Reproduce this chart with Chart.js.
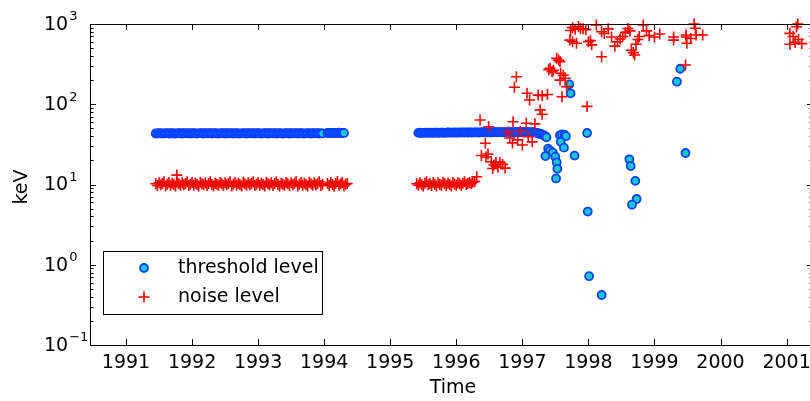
<!DOCTYPE html>
<html>
<head>
<meta charset="utf-8">
<script src="https://cdn.jsdelivr.net/npm/chart.js@4.4.1/dist/chart.umd.min.js"></script>
<style>
  html, body { margin: 0; padding: 0; overflow: hidden; background: #fff; }
  #wrap { width: 830px; height: 401px; }
</style>
</head>
<body>
<div id="wrap"><canvas id="chart"></canvas></div>
<script>
// Axis ticks
const yearTicks = [1991, 1992, 1993, 1994, 1995, 1996, 1997, 1998, 1999, 2000, 2001];
const decadeExps = [-1, 0, 1, 2, 3];

// Threshold level, [year, keV]
const threshA = [
    [1991.450, 43.2], [1991.475, 43.4], [1991.500, 43.3], [1991.525, 43.5], [1991.550, 43.1], [1991.575, 43.4], [1991.600, 43.3], [1991.625, 43.6],
    [1991.650, 43.2], [1991.675, 43.4], [1991.700, 43.5], [1991.725, 43.3], [1991.750, 43.1], [1991.775, 43.4], [1991.800, 43.6], [1991.825, 43.3],
    [1991.850, 43.2], [1991.875, 43.5], [1991.900, 43.4], [1991.925, 43.3], [1991.950, 43.6], [1991.975, 43.2], [1992.000, 43.4], [1992.025, 43.5],
    [1992.050, 43.3], [1992.075, 43.1], [1992.100, 43.4], [1992.125, 43.6], [1992.150, 43.3], [1992.175, 43.2], [1992.200, 43.5], [1992.225, 43.4],
    [1992.250, 43.3], [1992.275, 43.6], [1992.300, 43.2], [1992.325, 43.4], [1992.350, 43.5], [1992.375, 43.3], [1992.400, 43.1], [1992.425, 43.4],
    [1992.450, 43.6], [1992.475, 43.3], [1992.500, 43.2], [1992.525, 43.5], [1992.550, 43.4], [1992.575, 43.3], [1992.600, 43.6], [1992.625, 43.2],
    [1992.650, 43.4], [1992.675, 43.5], [1992.700, 43.3], [1992.725, 43.1], [1992.750, 43.4], [1992.775, 43.6], [1992.800, 43.3], [1992.825, 43.2],
    [1992.850, 43.5], [1992.875, 43.4], [1992.900, 43.3], [1992.925, 43.6], [1992.950, 43.2], [1992.975, 43.4], [1993.000, 43.5], [1993.025, 43.3],
    [1993.050, 43.1], [1993.075, 43.4], [1993.100, 43.6], [1993.125, 43.3], [1993.150, 43.2], [1993.175, 43.5], [1993.200, 43.4], [1993.225, 43.3],
    [1993.250, 43.6], [1993.275, 43.2], [1993.300, 43.4], [1993.325, 43.5], [1993.350, 43.3], [1993.375, 43.1], [1993.400, 43.4], [1993.425, 43.6],
    [1993.450, 43.3], [1993.475, 43.2], [1993.500, 43.5], [1993.525, 43.4], [1993.550, 43.3], [1993.575, 43.6], [1993.600, 43.2], [1993.625, 43.4],
    [1993.650, 43.5], [1993.675, 43.3], [1993.700, 43.1], [1993.725, 43.4], [1993.750, 43.6], [1993.775, 43.3], [1993.800, 43.2], [1993.825, 43.5],
    [1993.850, 43.4], [1993.875, 43.3], [1993.900, 43.6], [1993.925, 43.2], [1993.950, 43.4], [1993.975, 43.3],
    [1994.050, 43.8], [1994.075, 44.0], [1994.100, 43.9], [1994.125, 44.1], [1994.150, 43.7], [1994.175, 43.9], [1994.200, 44.0], [1994.225, 44.2],
    [1994.250, 43.8], [1994.275, 44.0], [1994.300, 43.9]
];
const threshB = [
    [1995.425, 44.0], [1995.450, 44.2], [1995.475, 43.9], [1995.500, 44.1], [1995.525, 44.3], [1995.550, 44.0], [1995.575, 44.2], [1995.600, 44.1],
    [1995.625, 44.3], [1995.650, 44.0], [1995.675, 44.2], [1995.700, 44.4], [1995.725, 44.1], [1995.750, 44.3], [1995.775, 44.2], [1995.800, 44.4],
    [1995.825, 44.1], [1995.850, 44.3], [1995.875, 44.5], [1995.900, 44.2], [1995.925, 44.4], [1995.950, 44.3], [1995.975, 44.5], [1996.000, 44.2],
    [1996.025, 44.4], [1996.050, 44.6], [1996.075, 44.3], [1996.100, 44.5], [1996.125, 44.4], [1996.150, 44.6], [1996.175, 44.3], [1996.200, 44.5],
    [1996.225, 44.7], [1996.250, 44.4], [1996.275, 44.6], [1996.300, 44.5], [1996.325, 44.7], [1996.350, 44.4], [1996.375, 44.6], [1996.400, 44.8],
    [1996.425, 44.5], [1996.450, 44.7], [1996.475, 44.6], [1996.500, 44.8], [1996.525, 44.5], [1996.550, 44.7], [1996.575, 44.9], [1996.600, 44.6],
    [1996.625, 44.8], [1996.650, 44.7], [1996.675, 44.9], [1996.700, 44.6], [1996.725, 44.8], [1996.750, 45.0], [1996.775, 44.7], [1996.800, 44.9],
    [1996.825, 44.8], [1996.850, 45.0], [1996.875, 44.7], [1996.900, 44.9], [1996.925, 45.1], [1996.950, 44.8], [1996.975, 45.0], [1997.000, 44.9],
    [1997.025, 45.1], [1997.050, 44.8], [1997.075, 45.0], [1997.100, 44.9], [1997.125, 44.7], [1997.150, 44.8], [1997.175, 44.5], [1997.200, 44.2],
    [1997.225, 43.8], [1997.250, 43.2], [1997.275, 42.6], [1997.300, 42.0], [1997.325, 41.0], [1997.350, 39.8], [1997.365, 38.8]
];
const threshScatter = [
    [1997.57, 41.0], [1997.60, 42.0], [1997.64, 41.5], [1997.66, 40.0], [1997.58, 34.0], [1997.63, 28.8], [1997.39, 28.0], [1997.42, 26.5],
    [1997.46, 25.0], [1997.35, 22.6], [1997.50, 22.2], [1997.52, 18.9], [1997.53, 15.7], [1997.51, 11.9], [1997.79, 22.9], [1997.98, 43.8],
    [1997.71, 177], [1997.73, 137], [1997.99, 4.6], [1998.01, 0.72], [1998.20, 0.42], [1998.62, 20.6], [1998.64, 17.0], [1998.71, 11.1],
    [1998.73, 6.6], [1998.66, 5.6], [1999.34, 191], [1999.39, 277], [1999.47, 24.7]
];

// Noise level, [year, keV]
const noiseA = [
    [1991.450, 10.2], [1991.475, 9.7], [1991.500, 10.5], [1991.525, 9.9], [1991.550, 10.3], [1991.575, 10.8], [1991.600, 9.6], [1991.625, 10.1],
    [1991.650, 10.6], [1991.675, 9.8], [1991.700, 10.4], [1991.725, 10.0], [1991.750, 9.6], [1991.770, 13.1], [1991.775, 10.7], [1991.800, 10.2],
    [1991.825, 9.8], [1991.850, 10.5], [1991.875, 9.9], [1991.900, 10.3], [1991.925, 10.8], [1991.950, 9.7], [1991.975, 10.1], [1992.000, 10.6],
    [1992.025, 9.8], [1992.050, 10.4], [1992.075, 10.0], [1992.100, 9.6], [1992.125, 10.7], [1992.150, 10.2], [1992.175, 9.9], [1992.200, 10.5],
    [1992.225, 9.7], [1992.250, 10.3], [1992.275, 10.8], [1992.300, 10.0], [1992.325, 9.6], [1992.350, 10.4], [1992.375, 10.1], [1992.400, 9.8],
    [1992.425, 10.6], [1992.450, 10.2], [1992.475, 9.7], [1992.500, 10.5], [1992.525, 9.9], [1992.550, 10.3], [1992.575, 10.8], [1992.600, 9.6],
    [1992.625, 10.1], [1992.650, 10.6], [1992.675, 9.8], [1992.700, 10.4], [1992.725, 10.0], [1992.750, 9.6], [1992.775, 10.7], [1992.800, 10.2],
    [1992.825, 9.8], [1992.850, 10.5], [1992.875, 9.9], [1992.900, 10.3], [1992.925, 10.8], [1992.950, 9.7], [1992.975, 10.1], [1993.000, 10.6],
    [1993.025, 9.8], [1993.050, 10.4], [1993.075, 10.0], [1993.100, 9.6], [1993.125, 10.7], [1993.150, 10.2], [1993.175, 9.9], [1993.200, 10.5],
    [1993.225, 9.7], [1993.250, 10.3], [1993.275, 10.8], [1993.300, 10.0], [1993.325, 9.6], [1993.350, 10.4], [1993.375, 10.1], [1993.400, 9.8],
    [1993.425, 10.6], [1993.450, 10.2], [1993.475, 9.7], [1993.500, 10.5], [1993.525, 9.9], [1993.550, 10.3], [1993.575, 10.8], [1993.600, 9.6],
    [1993.625, 10.1], [1993.650, 10.6], [1993.675, 9.8], [1993.700, 10.4], [1993.725, 10.0], [1993.750, 9.6], [1993.775, 10.7], [1993.800, 10.2],
    [1993.825, 9.8], [1993.850, 10.5], [1993.875, 9.9], [1993.900, 10.3], [1993.925, 10.8], [1993.950, 9.7], [1993.975, 10.1],
    [1994.050, 10.3], [1994.075, 9.7], [1994.100, 10.6], [1994.125, 10.0], [1994.150, 9.5], [1994.175, 10.4], [1994.200, 10.9], [1994.225, 9.8],
    [1994.250, 10.2], [1994.275, 10.6], [1994.300, 9.6], [1994.325, 10.1], [1994.350, 10.3]
];
const noiseB = [
    [1995.400, 10.2], [1995.425, 9.8], [1995.450, 10.5], [1995.475, 10.0], [1995.500, 9.6], [1995.525, 10.4], [1995.550, 10.8], [1995.575, 9.9],
    [1995.600, 10.3], [1995.625, 9.7], [1995.650, 10.6], [1995.675, 10.1], [1995.700, 9.6], [1995.725, 10.5], [1995.750, 10.0], [1995.775, 9.8],
    [1995.800, 10.7], [1995.825, 10.2], [1995.850, 9.7], [1995.875, 10.4], [1995.900, 10.0], [1995.925, 9.6], [1995.950, 10.6], [1995.975, 10.1],
    [1996.000, 9.8], [1996.025, 10.5], [1996.050, 10.2], [1996.075, 9.7], [1996.100, 10.4], [1996.125, 10.8], [1996.150, 10.0], [1996.175, 10.3],
    [1996.200, 10.6], [1996.225, 10.2], [1996.250, 10.7], [1996.280, 10.9], [1996.310, 12.5]
];
const noiseScatter = [
    [1996.36, 63.7], [1996.49, 52.5], [1996.44, 32.6], [1996.38, 23.0], [1996.45, 22.0], [1996.48, 24.0], [1996.53, 19.2], [1996.57, 17.5],
    [1996.60, 18.8], [1996.63, 16.5], [1996.66, 19.0], [1996.70, 17.8], [1996.74, 16.0], [1996.55, 15.8], [1996.78, 45.0], [1996.97, 46.0],
    [1996.86, 60.6], [1997.06, 58.0], [1997.19, 57.0], [1996.81, 38.0], [1996.85, 33.0], [1996.93, 36.0], [1997.00, 31.0], [1997.09, 39.5],
    [1997.15, 34.0], [1996.91, 220], [1996.88, 163], [1997.07, 137], [1997.11, 113], [1997.24, 130], [1997.30, 128], [1997.38, 132],
    [1997.27, 85], [1997.30, 75], [1997.52, 373], [1997.55, 355], [1997.57, 340], [1997.42, 280], [1997.45, 255], [1997.47, 265],
    [1997.40, 270], [1997.58, 243], [1997.62, 230], [1997.65, 211], [1997.57, 200], [1997.67, 166], [1997.60, 124], [1997.98, 94],
    [1997.73, 830], [1997.76, 900], [1997.80, 860], [1997.85, 930], [1997.88, 880], [1997.92, 870], [1997.96, 850], [1997.72, 630],
    [1997.76, 600], [1997.82, 575], [1998.00, 600], [1998.03, 620], [1998.05, 550], [1998.12, 970], [1998.20, 800], [1998.24, 760],
    [1998.30, 870], [1998.35, 690], [1998.20, 390], [1998.40, 530], [1998.44, 600], [1998.48, 650], [1998.52, 700], [1998.56, 780],
    [1998.60, 880], [1998.63, 820], [1998.65, 470], [1998.68, 440], [1998.70, 410], [1998.72, 560], [1998.75, 640], [1998.77, 700],
    [1998.83, 970], [1998.88, 820], [1998.92, 720], [1999.00, 690], [1999.08, 750], [1999.29, 690], [1999.29, 630], [1999.48, 690],
    [1999.49, 575], [1999.47, 308], [1999.60, 1000], [1999.62, 885], [1999.48, 730], [1999.55, 660], [1999.63, 730], [1999.73, 730],
    [2001.17, 1000], [2001.15, 925], [2001.05, 765], [2001.10, 700], [2001.05, 560], [2001.13, 590], [2001.23, 570], [2001.18, 640]
];

const FONT = '"DejaVu Sans", sans-serif';
const BLUE_EDGE = '#0a40ff';
const BLUE_FILL = '#1cc6d0';
const RED = '#ff0000';

const toPoints = arr => arr.map(p => ({ x: p[0], y: p[1] }));

// Frame, inward ticks, labels and legend
const framePlugin = {
    id: 'frame',
    afterDraw(chart) {
        const { ctx, chartArea: a, scales } = chart;
        const xs = scales.x, ys = scales.y;
        ctx.save();
        ctx.strokeStyle = '#000';
        ctx.lineWidth = 1;
        ctx.strokeRect(a.left + 0.5, a.top + 0.5, a.right - a.left, a.bottom - a.top);

        ctx.beginPath();
        yearTicks.forEach(yr => {
            const px = Math.round(xs.getPixelForValue(yr)) + 0.5;
            ctx.moveTo(px, a.bottom); ctx.lineTo(px, a.bottom - 6);
            ctx.moveTo(px, a.top); ctx.lineTo(px, a.top + 6);
        });
        decadeExps.forEach(e => {
            for (let m = 1; m <= 9; m++) {
                const v = m * Math.pow(10, e);
                if (v > 1000) break;
                const py = Math.round(ys.getPixelForValue(v)) + 0.5;
                const len = m === 1 ? 6 : 3.5;
                ctx.moveTo(a.left, py); ctx.lineTo(a.left + len, py);
                ctx.moveTo(a.right, py); ctx.lineTo(a.right - len, py);
            }
        });
        ctx.stroke();

        // x labels
        ctx.fillStyle = '#000';
        ctx.font = '19px ' + FONT;
        ctx.textAlign = 'center';
        ctx.textBaseline = 'middle';
        yearTicks.forEach(yr => {
            ctx.fillText(String(yr), xs.getPixelForValue(yr), a.bottom + 18);
        });
        ctx.fillText('Time', 453, 388);

        // y labels with superscripts
        ctx.textAlign = 'left';
        decadeExps.forEach(e => {
            const py = ys.getPixelForValue(Math.pow(10, e));
            ctx.font = '19px ' + FONT;
            ctx.fillText('10', 44, py + 1);
            const w = ctx.measureText('10').width;
            ctx.font = '13px ' + FONT;
            ctx.fillText(String(e).replace('-', '\u2212'), 44 + w + 1, py - 7);
        });

        ctx.save();
        ctx.translate(22, 187);
        ctx.rotate(-Math.PI / 2);
        ctx.font = '19px ' + FONT;
        ctx.textAlign = 'center';
        ctx.fillText('keV', 0, 0);
        ctx.restore();

        // legend
        ctx.fillStyle = '#fff';
        ctx.fillRect(103.5, 251.5, 219, 63);
        ctx.strokeRect(103.5, 251.5, 219, 63);
        ctx.beginPath();
        ctx.arc(144, 268, 4, 0, Math.PI * 2);
        ctx.fillStyle = BLUE_FILL;
        ctx.fill();
        ctx.lineWidth = 1.8;
        ctx.strokeStyle = BLUE_EDGE;
        ctx.stroke();
        ctx.beginPath();
        ctx.strokeStyle = RED;
        ctx.lineWidth = 1.6;
        ctx.moveTo(138.5, 297); ctx.lineTo(149.5, 297);
        ctx.moveTo(144, 291.5); ctx.lineTo(144, 302.5);
        ctx.stroke();
        ctx.fillStyle = '#000';
        ctx.font = '19px ' + FONT;
        ctx.textAlign = 'left';
        ctx.fillText('threshold level', 178, 268);
        ctx.fillText('noise level', 178, 297);
        ctx.restore();
    }
};

new Chart(document.getElementById('chart'), {
    type: 'scatter',
    data: {
        datasets: [{
            label: 'threshold level',
            data: toPoints(threshA.concat(threshB, threshScatter)),
            pointStyle: 'circle',
            pointRadius: 4,
            borderWidth: 1.8,
            backgroundColor: BLUE_FILL,
            borderColor: BLUE_EDGE,
            clip: false,
            order: 1
        }, {
            label: 'noise level',
            data: toPoints(noiseA.concat(noiseB, noiseScatter)),
            pointStyle: 'cross',
            pointRadius: 5.5,
            borderWidth: 1.6,
            borderColor: RED,
            backgroundColor: RED,
            clip: false,
            order: 0
        }]
    },
    options: {
        responsive: true,
        maintainAspectRatio: false,
        animation: false,
        layout: { padding: { left: 90, top: 24, right: 17, bottom: 56 } },
        plugins: { legend: { display: false }, tooltip: { enabled: false } },
        scales: {
            x: { type: 'linear', min: 1990.455, max: 2001.4, display: false },
            y: { type: 'logarithmic', min: 0.1, max: 1000, display: false }
        }
    },
    plugins: [framePlugin]
});
</script>
</body>
</html>
